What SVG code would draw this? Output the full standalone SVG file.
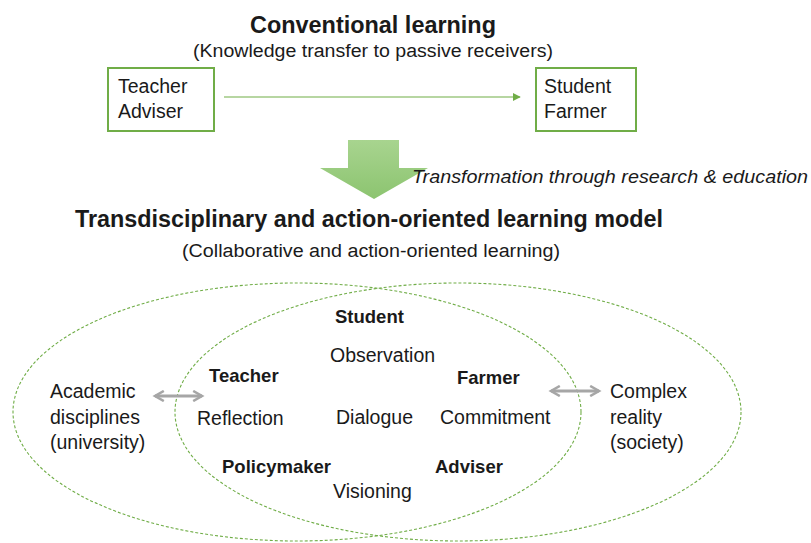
<svg xmlns="http://www.w3.org/2000/svg" width="811" height="543" viewBox="0 0 811 543">
  <defs>
    <style>
      text { font-family: "Liberation Sans", Arial, sans-serif; fill: #1a1a1a; }
      .title { font-weight: bold; font-size: 23px; }
      .sub { font-size: 18px; }
      .lbl { font-size: 19.5px; }
      .role { font-size: 18.5px; font-weight: bold; }
      .box { fill: #ffffff; stroke: #70ad47; stroke-width: 2; }
      .ring { fill: none; stroke: #70ad47; stroke-width: 1.1; stroke-dasharray: 3 2; }
      .flow { stroke: #70ad47; stroke-width: 1.2; fill: none; }
      .link { stroke: #a6a6a6; stroke-width: 2.8; fill: none; }
    </style>
    <marker id="greenHead" viewBox="0 0 10 10" refX="9" refY="5" markerWidth="8" markerHeight="8" markerUnits="userSpaceOnUse" orient="auto">
      <path d="M0,0 L10,5 L0,10 z" fill="#70ad47"/>
    </marker>
    <marker id="greyHead" viewBox="0 0 10 10" refX="8" refY="5" markerWidth="4.5" markerHeight="4.5" orient="auto-start-reverse">
      <path d="M1,1 L8,5 L1,9" fill="none" stroke="#a6a6a6" stroke-width="2"/>
    </marker>
    <linearGradient id="arrowFill" x1="0" y1="0" x2="0" y2="1">
      <stop offset="0" stop-color="#a8d48f"/>
      <stop offset="1" stop-color="#8cc470"/>
    </linearGradient>
  </defs>

  <!-- Conventional learning -->
  <text class="title" x="373" y="33" text-anchor="middle" textLength="246" lengthAdjust="spacingAndGlyphs">Conventional learning</text>
  <text class="sub" x="373" y="57" text-anchor="middle" textLength="360" lengthAdjust="spacingAndGlyphs">(Knowledge transfer to passive receivers)</text>

  <g id="node-teacher-adviser">
    <rect class="box" x="108" y="68" width="106" height="63"/>
    <text class="lbl" x="118" y="93">Teacher</text>
    <text class="lbl" x="118" y="118">Adviser</text>
  </g>
  <g id="node-student-farmer">
    <rect class="box" x="536" y="68" width="100" height="63"/>
    <text class="lbl" x="544" y="93">Student</text>
    <text class="lbl" x="544" y="118">Farmer</text>
  </g>

  <!-- Transformation arrow -->
  <g id="transformation">
    <polygon points="348,140 399,140 399,168 428,168 374,199 320,168 348,168" fill="url(#arrowFill)"/>
    <text x="412" y="183" font-size="18.5" font-style="italic" textLength="396" lengthAdjust="spacingAndGlyphs">Transformation through research &amp; education</text>
  </g>

  <!-- Transdisciplinary model -->
  <text class="title" x="369" y="227" text-anchor="middle" textLength="588" lengthAdjust="spacingAndGlyphs">Transdisciplinary and action-oriented learning model</text>
  <text class="sub" x="371" y="257" text-anchor="middle" textLength="378" lengthAdjust="spacingAndGlyphs">(Collaborative and action-oriented learning)</text>

  <g id="ring-university">
    <ellipse class="ring" cx="297" cy="412" rx="284" ry="129"/>
  </g>
  <g id="ring-society">
    <ellipse class="ring" cx="458" cy="412" rx="283" ry="129"/>
  </g>

  <g id="node-academic">
    <text class="lbl" x="50" y="398">Academic</text>
    <text class="lbl" x="50" y="424">disciplines</text>
    <text class="lbl" x="50" y="449">(university)</text>
  </g>
  <g id="node-complex">
    <text class="lbl" x="610" y="398">Complex</text>
    <text class="lbl" x="610" y="424">reality</text>
    <text class="lbl" x="610" y="449">(society)</text>
  </g>

  <g id="roles">
    <text class="role" x="335" y="323">Student</text>
    <text class="role" x="209" y="382">Teacher</text>
    <text class="role" x="457" y="384">Farmer</text>
    <text class="role" x="222" y="473">Policymaker</text>
    <text class="role" x="435" y="473">Adviser</text>
  </g>
  <g id="activities">
    <text class="lbl" x="330" y="362">Observation</text>
    <text class="lbl" x="197" y="425">Reflection</text>
    <text class="lbl" x="336" y="424">Dialogue</text>
    <text class="lbl" x="440" y="424">Commitment</text>
    <text class="lbl" x="333" y="498">Visioning</text>
  </g>

  <g id="connectors">
    <line class="flow" x1="224" y1="97" x2="520" y2="97" marker-end="url(#greenHead)"/>
    <line class="link" x1="155" y1="396" x2="202" y2="396" marker-start="url(#greyHead)" marker-end="url(#greyHead)"/>
    <line class="link" x1="551" y1="391" x2="599" y2="391" marker-start="url(#greyHead)" marker-end="url(#greyHead)"/>
  </g>
</svg>
